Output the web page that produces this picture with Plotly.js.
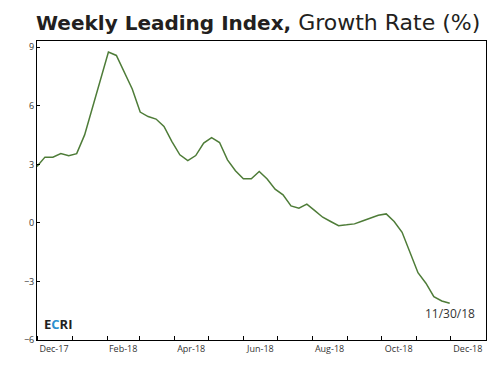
<!DOCTYPE html>
<html>
<head>
<meta charset="utf-8">
<script src="https://cdn.plot.ly/plotly-3.0.1.min.js"></script>
<style>html,body{margin:0;padding:0;background:#fff;}#chart{width:504px;height:370px;}</style>
</head>
<body>
<div id="chart"></div>
<script>
// Weekly dates: Dec 1 2017 .. Nov 30 2018 (Fridays)
const startDate = "2017-12-01";
const growthRate = [
  2.89, 3.37, 3.37, 3.55, 3.44, 3.55, 4.51, 5.90, 7.33, 8.75,
  8.58, 7.68, 6.86, 5.68, 5.45, 5.32, 4.94, 4.17, 3.49, 3.19,
  3.45, 4.09, 4.37, 4.12, 3.23, 2.67, 2.26, 2.26, 2.63, 2.25,
  1.73, 1.44, 0.87, 0.75, 0.96, 0.63, 0.29, 0.07, -0.14, -0.10,
  -0.05, 0.10, 0.26, 0.39, 0.46, 0.07, -0.48, -1.47, -2.55, -3.09,
  -3.78, -4.00, -4.12
];
const xLabelDates = ["2017-12-16","2018-02-15","2018-04-16","2018-06-16","2018-08-16","2018-10-16","2018-12-16"];
const xLabels = ["Dec-17","Feb-18","Apr-18","Jun-18","Aug-18","Oct-18","Dec-18"];
const yTicks = [-6, -3, 0, 3, 6, 9];
const endLabel = "11/30/18";

function weekDates(start, n) {
  const out = [];
  const d0 = new Date(start + "T00:00:00Z");
  for (let i = 0; i < n; i++) {
    const d = new Date(d0.getTime() + i * 7 * 86400000);
    out.push(d.toISOString().slice(0, 10));
  }
  return out;
}
const dates = weekDates(startDate, growthRate.length);

const trace = {
  x: dates, y: growthRate, type: "scatter", mode: "lines",
  line: {color: "#4e7c38", width: 1.5},
  hoverinfo: "skip"
};

const tickFont = {family: "Open Sans, sans-serif", size: 9, color: "#333"};

const layout = {
  width: 504, height: 370,
  margin: {l: 37, r: 18, t: 41, b: 30},
  paper_bgcolor: "#fff", plot_bgcolor: "#fff",
  showlegend: false,
  title: {
    text: "<span style='font-size:20px'><b>Weekly Leading Index,</b></span><span style='font-size:22px'> Growth Rate (%)</span>",
    font: {family: "DejaVu Sans, sans-serif", size: 21, color: "#231f20"},
    x: 36/504, xref: "container", xanchor: "left",
    y: 1 - 23/370, yref: "container", yanchor: "middle"
  },
  xaxis: {
    type: "date",
    range: ["2017-12-01", "2019-01-01"],
    tickmode: "array", tickvals: xLabelDates, ticktext: xLabels,
    ticks: "", tickfont: tickFont,
    showgrid: false, zeroline: false,
    showline: true, mirror: true, linecolor: "#000", linewidth: 1,
    minor: {dtick: "M1", tick0: "2018-01-01", ticks: "inside", ticklen: 4, tickcolor: "#000", tickwidth: 1, showgrid: false}
  },
  yaxis: {
    range: [-6, 9.32],
    tickmode: "array", tickvals: yTicks,
    ticks: "inside", ticklen: 3, tickcolor: "#000",
    tickfont: tickFont,
    showgrid: false, zeroline: false,
    showline: true, mirror: true, linecolor: "#000", linewidth: 1
  },
  annotations: [
    {
      x: dates[dates.length - 1], y: growthRate[growthRate.length - 1],
      xref: "x", yref: "y", text: endLabel, showarrow: false,
      xanchor: "center", yanchor: "top", yshift: 0,
      font: {family: "Open Sans, sans-serif", size: 12, color: "#333"}
    },
    {
      x: 0.012, y: 0.018, xref: "paper", yref: "paper",
      text: "<b>E<span style='color:#2a8fd0'>C</span>RI</b>",
      showarrow: false, xanchor: "left", yanchor: "bottom",
      font: {family: "Open Sans, sans-serif", size: 13, color: "#231f20"}
    }
  ]
};

Plotly.newPlot("chart", [trace], layout, {staticPlot: true, displayModeBar: false});
</script>
</body>
</html>
